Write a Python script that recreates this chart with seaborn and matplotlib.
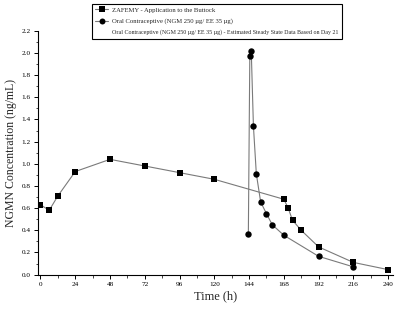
import numpy as np
import pandas as pd
from matplotlib import pyplot as plt
from matplotlib.lines import Line2D
from matplotlib.ticker import MultipleLocator
import seaborn as sns

sns.set_style('ticks')
plt.rcParams['font.family'] = ['Liberation Serif', 'DejaVu Serif']

# ZAFEMY patch, applied to the buttock
patch_time = [0, 6, 12, 24, 48, 72, 96, 120, 168, 171, 174, 180, 192, 216, 240]
patch_conc = [0.63, 0.58, 0.71, 0.93, 1.04, 0.98, 0.92, 0.86, 0.68, 0.60, 0.49, 0.40, 0.25, 0.11, 0.045]

# oral contraceptive, estimated steady state from day 21
oral_time = [143.5, 144.5, 145.5, 147, 149, 152, 156, 160, 168, 192, 216]
oral_conc = [0.37, 1.97, 2.02, 1.34, 0.91, 0.655, 0.55, 0.45, 0.355, 0.165, 0.07]

df_patch = pd.DataFrame({'time': patch_time, 'conc': patch_conc})
df_oral = pd.DataFrame({'time': oral_time, 'conc': oral_conc})

fig = plt.figure(figsize=(4, 3.11), dpi=100)
ax = fig.add_axes([0.094, 0.117, 0.889, 0.784])

line_col = '#7a7a7a'
sns.lineplot(data=df_patch, x='time', y='conc', ax=ax, color=line_col, lw=0.8,
             marker='s', markersize=4.3, markerfacecolor='black',
             markeredgecolor='black', markeredgewidth=0, sort=False)
sns.lineplot(data=df_oral, x='time', y='conc', ax=ax, color=line_col, lw=0.8,
             marker='o', markersize=4.6, markerfacecolor='black',
             markeredgecolor='black', markeredgewidth=0, sort=False)

ax.set_xlim(-2, 243.5)
ax.set_ylim(0, 2.2)
ax.set_xticks(np.arange(0, 241, 24))
ax.xaxis.set_minor_locator(MultipleLocator(12))
ax.set_yticks(np.arange(0, 2.21, 0.2))
ax.set_yticklabels(['{:.1f}'.format(v) for v in np.arange(0, 2.21, 0.2)])
ax.yaxis.set_minor_locator(MultipleLocator(0.1))
ax.tick_params(which='major', length=3, width=0.7, labelsize=5.2, pad=2, colors='black')
ax.tick_params(which='minor', length=1.8, width=0.6)
for s in ['top', 'right']:
    ax.spines[s].set_visible(False)
for s in ['left', 'bottom']:
    ax.spines[s].set_linewidth(0.8)
    ax.spines[s].set_color('black')

ax.set_xlabel('Time (h)', fontsize=9, labelpad=3)
ax.set_ylabel('NGMN Concentration (ng/mL)', fontsize=8.5, labelpad=3)

handles = [
    Line2D([], [], color=line_col, lw=0.8, marker='s', markersize=4,
           markerfacecolor='black', markeredgewidth=0),
    Line2D([], [], color=line_col, lw=0.8, marker='o', markersize=4.3,
           markerfacecolor='black', markeredgewidth=0),
    Line2D([], [], color='none'),
]
labels = [
    'ZAFEMY - Application to the Buttock',
    'Oral Contraceptive (NGM 250 µg/ EE 35 µg)',
    'Oral Contraceptive (NGM 250 µg/ EE 35 µg) - Estimated Steady State Data Based on Day 21',
]
leg = fig.legend(handles, labels, loc='upper left', bbox_to_anchor=(0.23, 0.987),
                 fontsize=4.3, frameon=True, fancybox=False, edgecolor='black',
                 framealpha=1, handlelength=2.2, handletextpad=0.6,
                 labelspacing=0.95, borderpad=0.55, borderaxespad=0)
leg.get_frame().set_linewidth(0.8)
for t in leg.get_texts()[:2]:
    t.set_fontsize(4.8)

fig.savefig('out.png', dpi=100)
